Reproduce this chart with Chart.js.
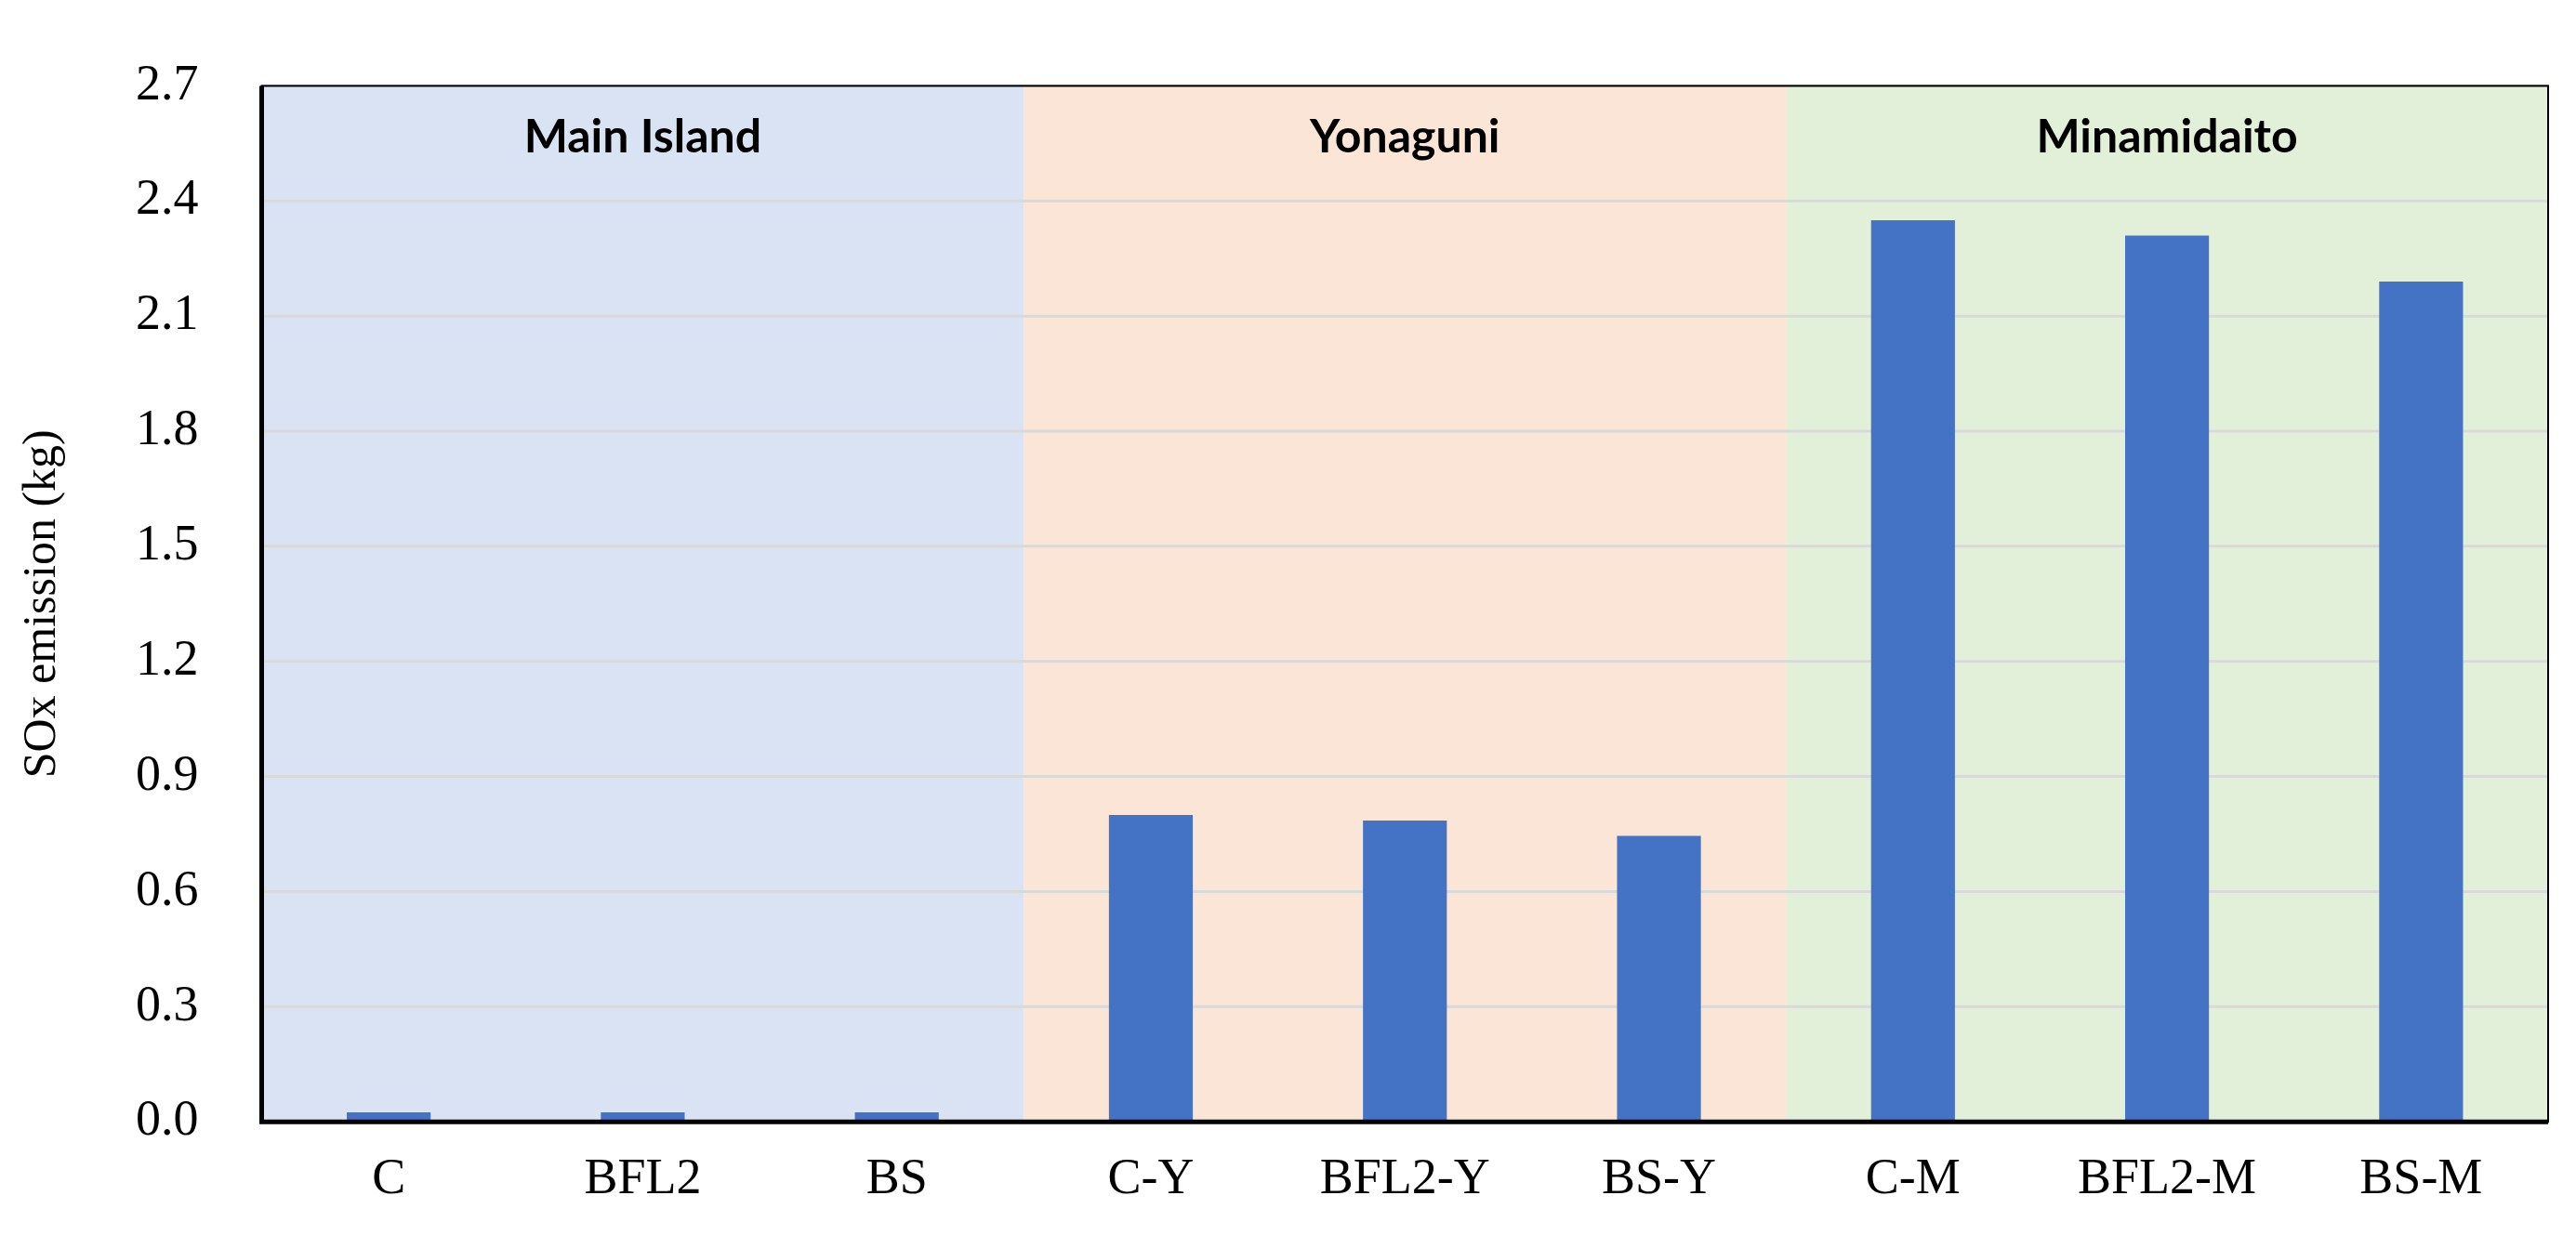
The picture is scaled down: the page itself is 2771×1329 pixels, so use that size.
<!DOCTYPE html>
<html>
<head>
<meta charset="utf-8">
<script src="https://cdn.jsdelivr.net/npm/chart.js@4/dist/chart.umd.min.js"></script>
<style>
  html, body { margin: 0; padding: 0; background: #fff; }
  #wrap { width: 2771px; height: 1329px; }
</style>
</head>
<body>
<div id="wrap"><canvas id="chart"></canvas></div>
<script>
// data
const categories = ['C', 'BFL2', 'BS', 'C-Y', 'BFL2-Y', 'BS-Y', 'C-M', 'BFL2-M', 'BS-M'];
const soxValues  = [0.025, 0.025, 0.025, 0.80, 0.785, 0.745, 2.35, 2.31, 2.19];
const regions      = ['Main Island', 'Yonaguni', 'Minamidaito'];
const regionColors = ['#DAE3F3', '#FBE5D6', '#E2F0D9'];
const regionSize   = 3;

// shaded region bands + their titles, drawn behind the bars
const regionBands = {
  id: 'regionBands',
  beforeDatasetsDraw(chart) {
    const { ctx, chartArea, scales: { x } } = chart;
    const step = (chartArea.right - chartArea.left) / categories.length;
    ctx.save();
    regions.forEach((name, i) => {
      const x0 = x.getPixelForValue(i * regionSize) - step / 2;
      const x1 = x.getPixelForValue(i * regionSize + regionSize - 1) + step / 2;
      ctx.fillStyle = regionColors[i];
      ctx.fillRect(x0, chartArea.top, x1 - x0, chartArea.bottom - chartArea.top);
    });
    // grid lines over the fill
    chart.scales.y.ticks.forEach(t => {
      const py = chart.scales.y.getPixelForValue(t.value);
      ctx.strokeStyle = '#D9D9D9';
      ctx.lineWidth = 3;
      ctx.beginPath();
      ctx.moveTo(chartArea.left, py);
      ctx.lineTo(chartArea.right, py);
      ctx.stroke();
    });
    ctx.fillStyle = '#000';
    ctx.font = 'bold 50px Lato, "Open Sans", sans-serif';
    ctx.textAlign = 'center';
    ctx.textBaseline = 'middle';
    regions.forEach((name, i) => {
      const cx = x.getPixelForValue(i * regionSize + 1);
      ctx.fillText(name, cx, chartArea.top + 55);
    });
    ctx.restore();
  },
  afterDraw(chart) {
    const { ctx, chartArea } = chart;
    ctx.save();
    ctx.strokeStyle = '#000';
    ctx.lineWidth = 2;
    ctx.strokeRect(chartArea.left, chartArea.top, chartArea.right - chartArea.left, chartArea.bottom - chartArea.top);
    ctx.lineWidth = 5;
    ctx.beginPath();
    ctx.moveTo(chartArea.left, chartArea.top);
    ctx.lineTo(chartArea.left, chartArea.bottom);
    ctx.lineTo(chartArea.right, chartArea.bottom);
    ctx.stroke();
    ctx.restore();
  }
};

new Chart(document.getElementById('chart').getContext('2d'), {
  type: 'bar',
  data: {
    labels: categories,
    datasets: [{
      label: 'SOx emission (kg)',
      data: soxValues,
      backgroundColor: '#4472C4',
      barPercentage: 0.33,
      categoryPercentage: 1.0
    }]
  },
  options: {
    responsive: true,
    maintainAspectRatio: false,
    animation: false,
    layout: { padding: { top: 20, right: 30, bottom: 5, left: 12 } },
    plugins: { legend: { display: false }, tooltip: { enabled: false } },
    scales: {
      x: {
        grid: { display: false },
        border: { display: false },
        ticks: { color: '#000', font: { family: '"Liberation Serif", serif', size: 54 }, padding: 22 }
      },
      y: {
        min: 0,
        max: 2.7,
        grid: { display: false },
        border: { display: false },
        ticks: {
          stepSize: 0.3,
          color: '#000',
          font: { family: '"Liberation Serif", serif', size: 54 },
          padding: 60,
          callback: v => v.toFixed(1)
        },
        title: {
          display: true,
          text: 'SOx emission (kg)',
          color: '#000',
          font: { family: '"Liberation Serif", serif', size: 50 },
          padding: { bottom: 10 }
        }
      }
    }
  },
  plugins: [regionBands]
});
</script>
</body>
</html>
